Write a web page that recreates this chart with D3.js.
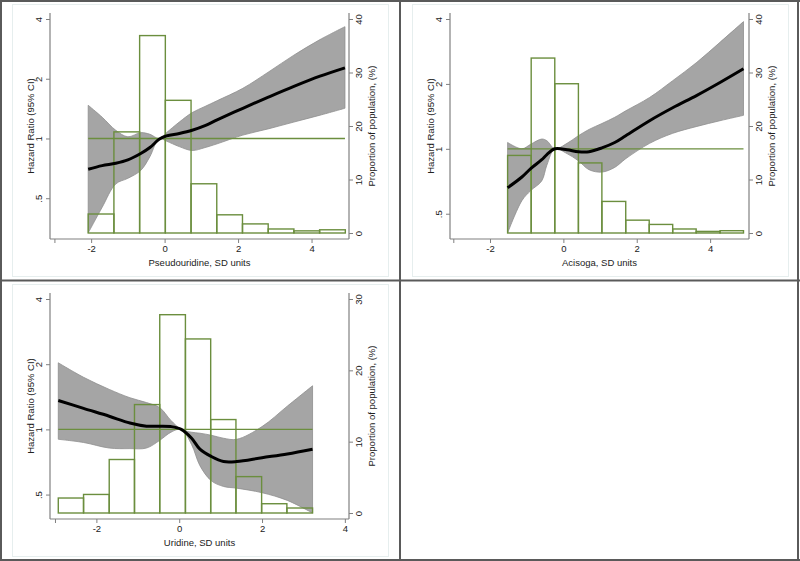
<!DOCTYPE html>
<html><head><meta charset="utf-8">
<script src="https://cdn.jsdelivr.net/npm/d3@7"></script>
<style>body{margin:0;background:#fff}svg{display:block}</style>
</head><body>
<svg id="c" width="800" height="561"></svg>
<script>
// ---------- data ----------
const hrTicks = [0.5, 1, 2, 4];
const hrTickLabels = [".5", "1", "2", "4"];
const xTicks = [-3, -2, 0, 2, 4];
const xTickLabels = ["", "-2", "0", "2", "4"];
const pctTicks40 = [0, 10, 20, 30, 40];
const pctTicks30 = [0, 10, 20, 30];

// Panel 1: Pseudouridine
const p1Title = "Pseudouridine, SD units";
const p1X  = [-2.08, -1.7, -1.33, -1.0, -0.65, -0.4, -0.15, 0.05, 0.4, 0.75, 1.1, 1.43, 2.13, 2.84, 3.52, 4.23, 4.91];
const p1HR = [0.70, 0.73, 0.75, 0.78, 0.84, 0.90, 0.99, 1.03, 1.06, 1.10, 1.16, 1.24, 1.42, 1.62, 1.83, 2.06, 2.27];
const p1Lo = [0.334, 0.45, 0.59, 0.63, 0.69, 0.81, 1.0, 0.97, 0.91, 0.87, 0.90, 0.94, 1.04, 1.12, 1.21, 1.31, 1.42];
const p1Hi = [1.47, 1.28, 1.10, 1.02, 1.07, 1.05, 1.0, 1.07, 1.21, 1.35, 1.45, 1.55, 1.79, 2.17, 2.63, 3.15, 3.66];
const p1BinEdges = [-2.08, -1.38, -0.68, 0.02, 0.72, 1.42, 2.12, 2.82, 3.52, 4.22, 4.92];
const p1BinPct   = [3.55, 18.9, 36.9, 24.8, 9.2, 3.4, 1.7, 0.75, 0.4, 0.6];

// Panel 2: Acisoga
const p2Title = "Acisoga, SD units";
const p2X  = [-1.52, -1.13, -0.89, -0.59, -0.45, -0.23, 0.1, 0.41, 0.7, 1.05, 1.4, 1.70, 2.35, 2.98, 3.64, 4.27, 4.91];
const p2HR = [0.66, 0.74, 0.81, 0.89, 0.94, 1.0, 0.99, 0.97, 0.97, 1.01, 1.07, 1.15, 1.35, 1.55, 1.77, 2.03, 2.35];
const p2Lo = [0.407, 0.575, 0.64, 0.71, 0.84, 1.0, 0.95, 0.88, 0.80, 0.78, 0.82, 0.90, 1.06, 1.18, 1.27, 1.35, 1.43];
const p2Hi = [1.07, 1.0, 1.05, 1.11, 1.09, 1.0, 1.06, 1.15, 1.23, 1.31, 1.40, 1.50, 1.73, 2.07, 2.52, 3.12, 3.89];
const p2BinEdges = [-1.52, -0.877, -0.234, 0.41, 1.05, 1.70, 2.34, 2.98, 3.62, 4.27, 4.91];
const p2BinPct   = [14.5, 32.7, 27.9, 13.1, 5.9, 2.4, 1.6, 0.75, 0.3, 0.43];

// Panel 3: Uridine
const p3Title = "Uridine, SD units";
const p3X  = [-2.92, -2.31, -1.69, -1.19, -0.79, -0.47, -0.2, 0.05, 0.3, 0.5, 0.77, 1.07, 1.39, 2.0, 2.61, 3.22];
const p3HR = [1.36, 1.25, 1.15, 1.07, 1.035, 1.035, 1.03, 1.0, 0.91, 0.81, 0.75, 0.71, 0.71, 0.74, 0.77, 0.81];
const p3Lo = [0.90, 0.87, 0.82, 0.815, 0.82, 0.89, 0.97, 1.0, 0.85, 0.68, 0.58, 0.545, 0.535, 0.51, 0.47, 0.411];
const p3Hi = [2.03, 1.74, 1.53, 1.40, 1.33, 1.26, 1.10, 1.0, 0.97, 0.96, 0.94, 0.91, 0.90, 1.03, 1.28, 1.59];
const p3BinEdges = [-2.92, -2.31, -1.69, -1.08, -0.47, 0.15, 0.76, 1.37, 1.99, 2.60, 3.22];
const p3BinPct   = [2.1, 2.6, 7.5, 15.2, 27.8, 24.4, 13.1, 5.1, 1.3, 0.7];

// ---------- layout ----------
const GREEN = "#6b8e3e";
const FONT = "'Liberation Sans', Arial, sans-serif";
const svg = d3.select("#c");

// frame
const frame = svg.append("g").attr("stroke", "#5a5a5a").attr("stroke-width", 2);
frame.append("line").attr("x1", 0).attr("x2", 800).attr("y1", 1).attr("y2", 1);
frame.append("line").attr("x1", 1).attr("x2", 1).attr("y1", 0).attr("y2", 561);
frame.append("line").attr("x1", 798).attr("x2", 798).attr("y1", 0).attr("y2", 561);
frame.append("line").attr("x1", 0).attr("x2", 800).attr("y1", 560).attr("y2", 560);
frame.append("line").attr("x1", 400).attr("x2", 400).attr("y1", 0).attr("y2", 561);
frame.append("line").attr("x1", 0).attr("x2", 800).attr("y1", 280.5).attr("y2", 280.5);

const panels = [
  {ox: 0,   oy: 0,   title: p1Title, x: p1X, hr: p1HR, lo: p1Lo, hi: p1Hi, edges: p1BinEdges, pct: p1BinPct, pTicks: pctTicks40, xDom: [-3.12, 5.02]},
  {ox: 400, oy: 0,   title: p2Title, x: p2X, hr: p2HR, lo: p2Lo, hi: p2Hi, edges: p2BinEdges, pct: p2BinPct, pTicks: pctTicks40, xDom: [-3.09, 5.06]},
  {ox: 0,   oy: 280, title: p3Title, x: p3X, hr: p3HR, lo: p3Lo, hi: p3Hi, edges: p3BinEdges, pct: p3BinPct, pTicks: pctTicks30, xDom: [-3.12, 4.10]}
];

const L = 50, R = 349, TOP = 19, BOT = 233, XAX = 239, AXTOP = 13;
const curve = d3.curveCatmullRom.alpha(0.5);

panels.forEach(p => {
  const g = svg.append("g").attr("transform", `translate(${p.ox},${p.oy})`);
  // faint inner border
  g.append("rect").attr("x", 12.5).attr("y", 4.5).attr("width", 376).attr("height", 272)
    .attr("fill", "none").attr("stroke", "#e6eeee").attr("stroke-width", 1);

  const x = d3.scaleLinear().domain(p.xDom).range([L, R]);
  const y = d3.scaleLog().domain([d3.min(p.lo), 4]).range([BOT, TOP]);
  const yr = d3.scaleLinear().domain([0, d3.max(p.pTicks)]).range([BOT, TOP]);

  const rows = p.x.map((v, i) => ({x: v, hr: p.hr[i], lo: p.lo[i], hi: p.hi[i]}));

  // CI ribbon
  g.append("path").datum(rows)
    .attr("d", d3.area().x(d => x(d.x)).y0(d => Math.min(BOT, y(d.lo))).y1(d => y(d.hi)).curve(curve))
    .attr("fill", "#a5a5a5").attr("stroke", "#8e8e8e").attr("stroke-width", 0.8);

  // histogram (outline)
  const bins = p.pct.map((v, i) => ({x0: p.edges[i], x1: p.edges[i + 1], v}));
  g.append("g").selectAll("rect").data(bins).join("rect")
    .attr("x", d => x(d.x0)).attr("width", d => x(d.x1) - x(d.x0))
    .attr("y", d => yr(d.v)).attr("height", d => yr(0) - yr(d.v))
    .attr("fill", "none").attr("stroke", GREEN).attr("stroke-width", 1.4);

  // reference line HR = 1
  g.append("line")
    .attr("x1", x(p.x[0])).attr("x2", x(p.x[p.x.length - 1]))
    .attr("y1", y(1)).attr("y2", y(1))
    .attr("stroke", GREEN).attr("stroke-width", 1.3);

  // HR line
  g.append("path").datum(rows)
    .attr("d", d3.line().x(d => x(d.x)).y(d => y(d.hr)).curve(curve))
    .attr("fill", "none").attr("stroke", "#000").attr("stroke-width", 3);

  // axis lines
  const axCol = "#808080";
  g.append("line").attr("x1", L).attr("x2", L).attr("y1", AXTOP).attr("y2", XAX).attr("stroke", axCol).attr("stroke-width", 1.2);
  g.append("line").attr("x1", R).attr("x2", R).attr("y1", AXTOP).attr("y2", XAX).attr("stroke", axCol).attr("stroke-width", 1.2);
  g.append("line").attr("x1", L).attr("x2", R).attr("y1", XAX).attr("y2", XAX).attr("stroke", axCol).attr("stroke-width", 1.2);

  const xa = g.append("g").attr("transform", `translate(0,${XAX})`)
    .call(d3.axisBottom(x).tickValues(xTicks).tickFormat((d, i) => xTickLabels[i]).tickSize(4).tickSizeOuter(0));
  const ya = g.append("g").attr("transform", `translate(${L},0)`)
    .call(d3.axisLeft(y).tickValues(hrTicks).tickFormat((d, i) => hrTickLabels[i]).tickSize(4).tickSizeOuter(0));
  const ra = g.append("g").attr("transform", `translate(${R},0)`)
    .call(d3.axisRight(yr).tickValues(p.pTicks).tickFormat(d3.format("d")).tickSize(4).tickSizeOuter(0));

  [xa, ya, ra].forEach(a => {
    a.select(".domain").remove();
    a.selectAll(".tick line").attr("stroke", axCol).attr("stroke-width", 1);
    a.selectAll("text").attr("font-family", FONT).attr("font-size", 9.5).attr("fill", "#222");
  });
  xa.selectAll("text").attr("y", 13).attr("dy", 0);
  ya.selectAll("text").attr("x", 0).attr("y", -8.5).attr("dy", 0)
    .attr("text-anchor", "middle").attr("transform", "rotate(-90)");
  ra.selectAll("text").attr("x", 0).attr("y", 12.5).attr("dy", 0)
    .attr("text-anchor", "middle").attr("transform", "rotate(-90)");

  // titles
  g.append("text").attr("x", (L + R) / 2).attr("y", 266).attr("text-anchor", "middle")
    .attr("font-family", FONT).attr("font-size", 9.5).attr("fill", "#222").text(p.title);
  g.append("text").attr("transform", `translate(33.5,${(TOP + BOT) / 2}) rotate(-90)`).attr("text-anchor", "middle")
    .attr("font-family", FONT).attr("font-size", 9.5).attr("fill", "#222").text("Hazard Ratio (95% CI)");
  g.append("text").attr("transform", `translate(374.5,${(TOP + BOT) / 2}) rotate(-90)`).attr("text-anchor", "middle")
    .attr("font-family", FONT).attr("font-size", 9.5).attr("fill", "#222").text("Proportion of population, (%)");
});
</script>
</body></html>
